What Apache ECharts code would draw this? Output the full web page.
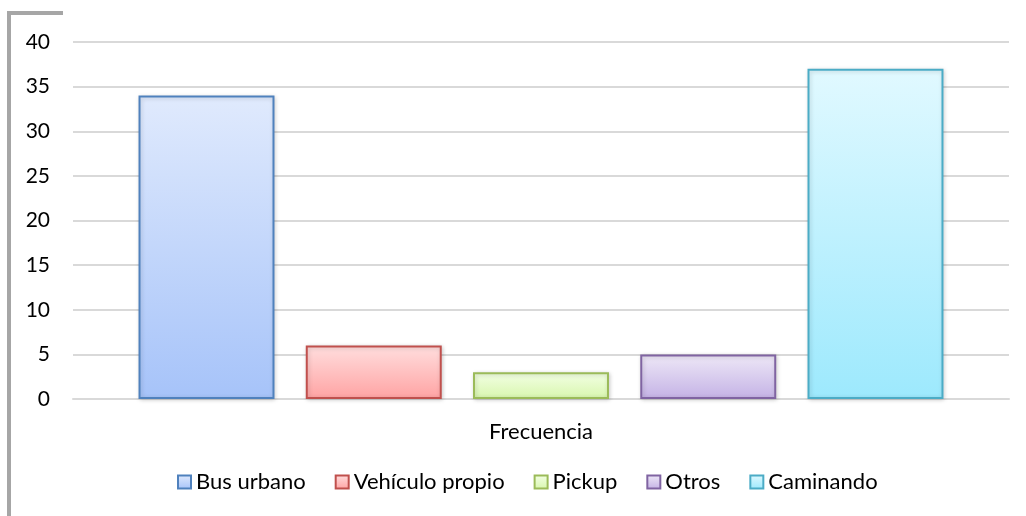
<!DOCTYPE html>
<html>
<head>
<meta charset="utf-8">
<script src="https://cdn.jsdelivr.net/npm/echarts@6/dist/echarts.min.js"></script>
<style>
  html, body { margin: 0; padding: 0; background: #fff; }
  #chart { width: 1026px; height: 516px; }
</style>
</head>
<body>
<div id="chart"></div>
<script>
// data
var categories = ["Frecuencia"];
var seriesNames = ["Bus urbano", "Vehículo propio", "Pickup", "Otros", "Caminando"];
var busUrbano = [34];
var vehiculoPropio = [6];
var pickup = [3];
var otros = [5];
var caminando = [37];
var yTicks = [0, 40, 5];

var seriesValues = [busUrbano, vehiculoPropio, pickup, otros, caminando];
var fills = [
  ["#e0eafd", "#a6c3f9"],
  ["#ffdede", "#ffa3a3"],
  ["#f3ffe4", "#d8f6ae"],
  ["#eee8f7", "#c4b2e5"],
  ["#e1f9ff", "#9de9fd"]
];
var borders = ["#4f81bd", "#c0504d", "#9bbb59", "#8064a2", "#4bacc6"];
var font = "Lato, 'Open Sans', sans-serif";

var series = seriesNames.map(function (name, i) {
  return {
    name: name,
    type: "bar",
    data: seriesValues[i],
    barGap: "23%",
    barCategoryGap: "14%",
    itemStyle: {
      color: new echarts.graphic.LinearGradient(0, 0, 0, 1, [
        { offset: 0, color: fills[i][0] },
        { offset: 1, color: fills[i][1] }
      ]),
      borderColor: borders[i],
      borderWidth: 2,
      shadowColor: "rgba(0,0,0,0.18)",
      shadowBlur: 4,
      shadowOffsetX: 1,
      shadowOffsetY: 1
    }
  };
});

var chart = echarts.init(document.getElementById("chart"));
var option = {
  animation: false,
  textStyle: { fontFamily: font },
  graphic: [
    { type: "rect", shape: { x: 7, y: 11, width: 4, height: 505 }, style: { fill: "#a6a6a6" } },
    { type: "rect", shape: { x: 7, y: 11, width: 56, height: 4 }, style: { fill: "#a6a6a6" } }
  ],
  grid: { left: 73, right: 17, top: 42, bottom: 117, containLabel: false },
  legend: {
    bottom: 18,
    left: 172,
    icon: "rect",
    itemWidth: 13,
    itemHeight: 13,
    itemGap: 29,
    textStyle: { fontSize: 22, color: "#000", fontFamily: font },
    data: seriesNames
  },
  xAxis: {
    type: "category",
    data: categories,
    axisLine: { show: true, lineStyle: { color: "#d9d9d9", width: 2 } },
    axisTick: { show: false },
    axisLabel: { fontSize: 22, color: "#000", margin: 22 }
  },
  yAxis: {
    type: "value",
    min: yTicks[0],
    max: yTicks[1],
    interval: yTicks[2],
    axisLine: { show: false },
    axisTick: { show: false },
    axisLabel: { fontSize: 21, color: "#000", margin: 23 },
    splitLine: { lineStyle: { color: "#d9d9d9", width: 2 } }
  },
  series: series
};
chart.setOption(option);
</script>
</body>
</html>
